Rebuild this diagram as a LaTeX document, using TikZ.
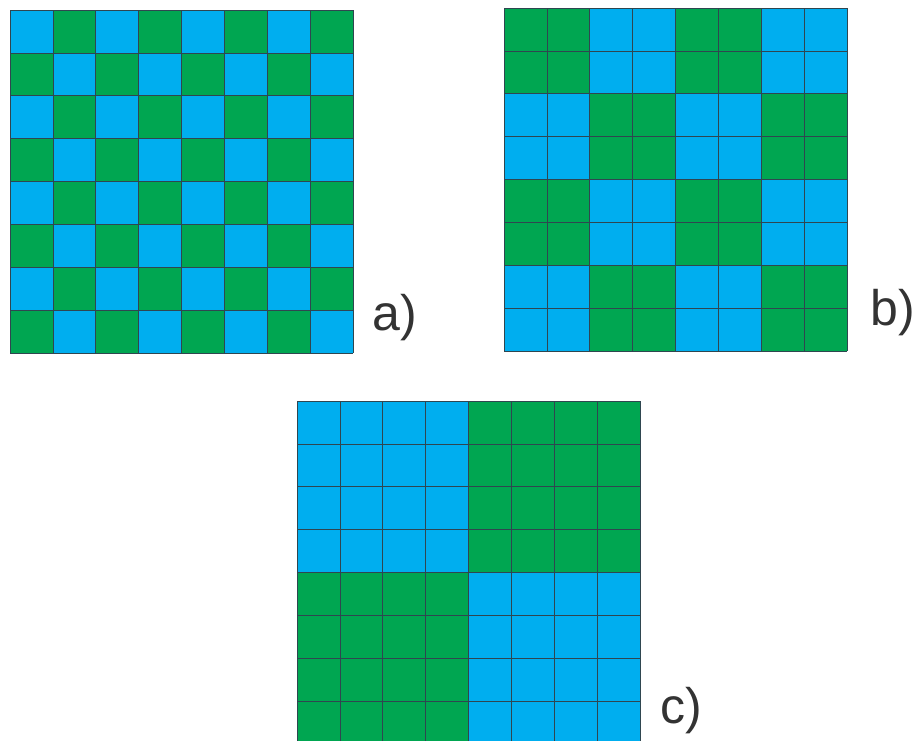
\documentclass[tikz,border=0pt]{standalone}
\usepackage{fontspec}
\setmainfont{Liberation Sans}
\definecolor{cblue}{HTML}{00AEEF}
\definecolor{cgreen}{HTML}{00A651}
\definecolor{gline}{HTML}{2F4650}
\definecolor{lbl}{HTML}{333333}
\begin{document}
\begin{tikzpicture}[x=1pt,y=-1pt,
  cell/.style={draw=gline,line width=0.7pt},
  lab/.style={anchor=base west,inner sep=0pt,text=lbl,font=\fontsize{50}{60}\selectfont}]
\clip (0,0) rectangle (914,740);
\useasboundingbox (0,0) rectangle (914,740);
\def\cs{42.9}
% a) checkerboard, top-left blue
\foreach \i in {0,...,7}{
  \foreach \j in {0,...,7}{
    \pgfmathtruncatemacro{\p}{mod(\i+\j,2)}
    \ifnum\p=0 \def\cc{cblue}\else\def\cc{cgreen}\fi
    \fill[\cc] ({10+\j*\cs},{10+\i*\cs}) rectangle ++(\cs,\cs);
  }}
\foreach \k in {0,...,8}{
  \draw[cell] ({10+\k*\cs},10) -- ++(0,{8*\cs});
  \draw[cell] (10,{10+\k*\cs}) -- ++({8*\cs},0);
}
% b) 2x2 blocks, top-left green
\foreach \i in {0,...,7}{
  \foreach \j in {0,...,7}{
    \pgfmathtruncatemacro{\p}{mod(int(\i/2)+int(\j/2),2)}
    \ifnum\p=0 \def\cc{cgreen}\else\def\cc{cblue}\fi
    \fill[\cc] ({504+\j*\cs},{8+\i*\cs}) rectangle ++(\cs,\cs);
  }}
\foreach \k in {0,...,8}{
  \draw[cell] ({504+\k*\cs},8) -- ++(0,{8*\cs});
  \draw[cell] (504,{8+\k*\cs}) -- ++({8*\cs},0);
}
% c) 4x4 blocks, top-left blue
\foreach \i in {0,...,7}{
  \foreach \j in {0,...,7}{
    \pgfmathtruncatemacro{\p}{mod(int(\i/4)+int(\j/4),2)}
    \ifnum\p=0 \def\cc{cblue}\else\def\cc{cgreen}\fi
    \fill[\cc] ({297+\j*\cs},{401+\i*\cs}) rectangle ++(\cs,\cs);
  }}
\foreach \k in {0,...,8}{
  \draw[cell] ({297+\k*\cs},401) -- ++(0,{8*\cs});
  \draw[cell] (297,{401+\k*\cs}) -- ++({8*\cs},0);
}
\node[lab] (la) at (372,330) {a)};
\node[lab] (lb) at (870,325) {b)};
\node[lab] (lc) at (660,723) {c)};
\end{tikzpicture}
\end{document}
